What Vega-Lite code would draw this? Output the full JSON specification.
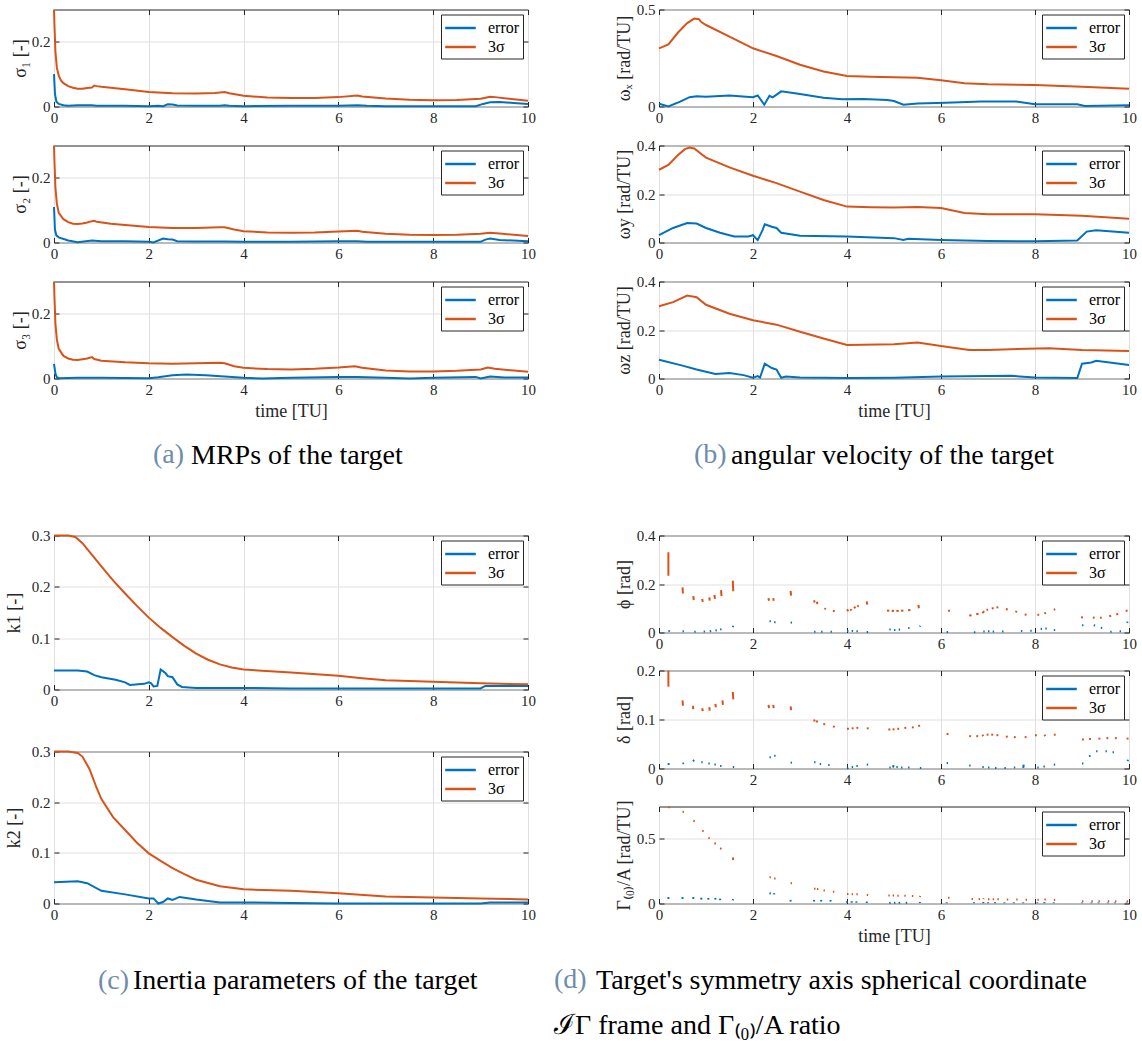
{
  "$schema": "https://vega.github.io/schema/vega-lite/v6.json",
  "autosize": {"type": "pad"},
  "padding": {"left": 4, "top": 1.5, "right": 5, "bottom": 5},
  "background": "white",
  "config": {
    "font": "Liberation Serif",
    "view": {"stroke": "#262626", "strokeWidth": 1},
    "axis": {
      "labelFont": "Liberation Serif", "labelFontSize": 15, "labelColor": "#262626",
      "titleFont": "Liberation Serif", "titleFontSize": 18, "titleFontWeight": "normal", "titleColor": "#262626",
      "domain": false, "tickColor": "#262626", "tickSize": -5, "tickWidth": 1,
      "gridColor": "#e0e0e0", "gridWidth": 1, "labelFlush": false, "labelOverlap": false
    },
    "axisBottom": {"labelPadding": 9, "titlePadding": 5},
    "axisLeft": {"labelPadding": 9, "titlePadding": 2},
    "legend": {
      "orient": "top-right", "offset": 5, "strokeColor": "#262626", "fillColor": "white",
      "padding": 3, "cornerRadius": 0, "symbolType": "M-1.7,0H1.7", "symbolSize": 324, "symbolOffset": 6,
      "symbolStrokeWidth": 2.5, "labelFont": "Liberation Serif", "labelFontSize": 16,
      "labelColor": "black", "rowPadding": 0, "labelOffset": 17
    },
    "title": {"font": "Liberation Serif", "fontSize": 28, "fontWeight": "normal", "color": "black", "frame": "group", "anchor": "start", "align": "left", "baseline": "alphabetic"}
  },
  "datasets": {
    "lines": [
      {"panel":"s1","series":"3σ","t":0,"v":0.30},{"panel":"s1","series":"3σ","t":0.01,"v":0.25},{"panel":"s1","series":"3σ","t":0.03,"v":0.17},{"panel":"s1","series":"3σ","t":0.06,"v":0.12},{"panel":"s1","series":"3σ","t":0.1,"v":0.095},{"panel":"s1","series":"3σ","t":0.15,"v":0.08},{"panel":"s1","series":"3σ","t":0.2,"v":0.072},{"panel":"s1","series":"3σ","t":0.3,"v":0.063},{"panel":"s1","series":"3σ","t":0.4,"v":0.058},{"panel":"s1","series":"3σ","t":0.5,"v":0.055},{"panel":"s1","series":"3σ","t":0.6,"v":0.055},{"panel":"s1","series":"3σ","t":0.7,"v":0.057},{"panel":"s1","series":"3σ","t":0.8,"v":0.059},{"panel":"s1","series":"3σ","t":0.85,"v":0.065},{"panel":"s1","series":"3σ","t":0.9,"v":0.063},{"panel":"s1","series":"3σ","t":1.0,"v":0.061},{"panel":"s1","series":"3σ","t":1.5,"v":0.053},{"panel":"s1","series":"3σ","t":2.0,"v":0.045},{"panel":"s1","series":"3σ","t":2.5,"v":0.041},{"panel":"s1","series":"3σ","t":3.0,"v":0.040},{"panel":"s1","series":"3σ","t":3.4,"v":0.042},{"panel":"s1","series":"3σ","t":3.6,"v":0.045},{"panel":"s1","series":"3σ","t":3.7,"v":0.041},{"panel":"s1","series":"3σ","t":4.0,"v":0.033},{"panel":"s1","series":"3σ","t":4.5,"v":0.028},{"panel":"s1","series":"3σ","t":5.0,"v":0.026},{"panel":"s1","series":"3σ","t":5.5,"v":0.026},{"panel":"s1","series":"3σ","t":6.0,"v":0.029},{"panel":"s1","series":"3σ","t":6.4,"v":0.034},{"panel":"s1","series":"3σ","t":6.5,"v":0.031},{"panel":"s1","series":"3σ","t":7.0,"v":0.025},{"panel":"s1","series":"3σ","t":7.5,"v":0.021},{"panel":"s1","series":"3σ","t":8.0,"v":0.019},{"panel":"s1","series":"3σ","t":8.5,"v":0.020},{"panel":"s1","series":"3σ","t":9.0,"v":0.024},{"panel":"s1","series":"3σ","t":9.2,"v":0.030},{"panel":"s1","series":"3σ","t":9.3,"v":0.029},{"panel":"s1","series":"3σ","t":9.6,"v":0.024},{"panel":"s1","series":"3σ","t":10,"v":0.018},
      {"panel":"s1","series":"error","t":0,"v":0.10},{"panel":"s1","series":"error","t":0.02,"v":0.04},{"panel":"s1","series":"error","t":0.05,"v":0.015},{"panel":"s1","series":"error","t":0.1,"v":0.008},{"panel":"s1","series":"error","t":0.2,"v":0.004},{"panel":"s1","series":"error","t":0.3,"v":0.002},{"panel":"s1","series":"error","t":0.5,"v":0.004},{"panel":"s1","series":"error","t":0.8,"v":0.004},{"panel":"s1","series":"error","t":0.9,"v":0.002},{"panel":"s1","series":"error","t":1.5,"v":0.002},{"panel":"s1","series":"error","t":2.0,"v":0.001},{"panel":"s1","series":"error","t":2.2,"v":0.002},{"panel":"s1","series":"error","t":2.3,"v":0.001},{"panel":"s1","series":"error","t":2.4,"v":0.007},{"panel":"s1","series":"error","t":2.5,"v":0.006},{"panel":"s1","series":"error","t":2.6,"v":0.003},{"panel":"s1","series":"error","t":3.0,"v":0.002},{"panel":"s1","series":"error","t":3.5,"v":0.002},{"panel":"s1","series":"error","t":3.6,"v":0.004},{"panel":"s1","series":"error","t":3.7,"v":0.002},{"panel":"s1","series":"error","t":4.0,"v":0.001},{"panel":"s1","series":"error","t":5.0,"v":0.002},{"panel":"s1","series":"error","t":6.0,"v":0.002},{"panel":"s1","series":"error","t":6.4,"v":0.004},{"panel":"s1","series":"error","t":6.6,"v":0.002},{"panel":"s1","series":"error","t":7.0,"v":0.001},{"panel":"s1","series":"error","t":8.0,"v":0.001},{"panel":"s1","series":"error","t":8.9,"v":0.001},{"panel":"s1","series":"error","t":9.05,"v":0.008},{"panel":"s1","series":"error","t":9.2,"v":0.013},{"panel":"s1","series":"error","t":9.4,"v":0.014},{"panel":"s1","series":"error","t":9.7,"v":0.011},{"panel":"s1","series":"error","t":10,"v":0.008},

      {"panel":"s2","series":"3σ","t":0,"v":0.30},{"panel":"s2","series":"3σ","t":0.01,"v":0.25},{"panel":"s2","series":"3σ","t":0.03,"v":0.17},{"panel":"s2","series":"3σ","t":0.06,"v":0.12},{"panel":"s2","series":"3σ","t":0.1,"v":0.092},{"panel":"s2","series":"3σ","t":0.2,"v":0.072},{"panel":"s2","series":"3σ","t":0.3,"v":0.063},{"panel":"s2","series":"3σ","t":0.4,"v":0.058},{"panel":"s2","series":"3σ","t":0.5,"v":0.057},{"panel":"s2","series":"3σ","t":0.6,"v":0.059},{"panel":"s2","series":"3σ","t":0.7,"v":0.062},{"panel":"s2","series":"3σ","t":0.8,"v":0.066},{"panel":"s2","series":"3σ","t":0.85,"v":0.067},{"panel":"s2","series":"3σ","t":0.9,"v":0.064},{"panel":"s2","series":"3σ","t":1.2,"v":0.058},{"panel":"s2","series":"3σ","t":1.5,"v":0.054},{"panel":"s2","series":"3σ","t":2.0,"v":0.048},{"panel":"s2","series":"3σ","t":2.5,"v":0.045},{"panel":"s2","series":"3σ","t":3.0,"v":0.045},{"panel":"s2","series":"3σ","t":3.5,"v":0.047},{"panel":"s2","series":"3σ","t":3.6,"v":0.047},{"panel":"s2","series":"3σ","t":3.8,"v":0.040},{"panel":"s2","series":"3σ","t":4.0,"v":0.035},{"panel":"s2","series":"3σ","t":4.5,"v":0.031},{"panel":"s2","series":"3σ","t":5.0,"v":0.030},{"panel":"s2","series":"3σ","t":5.5,"v":0.031},{"panel":"s2","series":"3σ","t":6.0,"v":0.034},{"panel":"s2","series":"3σ","t":6.4,"v":0.036},{"panel":"s2","series":"3σ","t":6.5,"v":0.033},{"panel":"s2","series":"3σ","t":7.0,"v":0.027},{"panel":"s2","series":"3σ","t":7.5,"v":0.024},{"panel":"s2","series":"3σ","t":8.0,"v":0.023},{"panel":"s2","series":"3σ","t":8.5,"v":0.024},{"panel":"s2","series":"3σ","t":9.0,"v":0.027},{"panel":"s2","series":"3σ","t":9.2,"v":0.030},{"panel":"s2","series":"3σ","t":9.4,"v":0.028},{"panel":"s2","series":"3σ","t":10,"v":0.020},
      {"panel":"s2","series":"error","t":0,"v":0.11},{"panel":"s2","series":"error","t":0.02,"v":0.04},{"panel":"s2","series":"error","t":0.05,"v":0.022},{"panel":"s2","series":"error","t":0.1,"v":0.016},{"panel":"s2","series":"error","t":0.3,"v":0.006},{"panel":"s2","series":"error","t":0.5,"v":0.001},{"panel":"s2","series":"error","t":0.8,"v":0.006},{"panel":"s2","series":"error","t":1.0,"v":0.004},{"panel":"s2","series":"error","t":1.5,"v":0.004},{"panel":"s2","series":"error","t":2.0,"v":0.002},{"panel":"s2","series":"error","t":2.1,"v":0.0},{"panel":"s2","series":"error","t":2.3,"v":0.012},{"panel":"s2","series":"error","t":2.4,"v":0.010},{"panel":"s2","series":"error","t":2.5,"v":0.009},{"panel":"s2","series":"error","t":2.6,"v":0.004},{"panel":"s2","series":"error","t":3.0,"v":0.003},{"panel":"s2","series":"error","t":3.6,"v":0.003},{"panel":"s2","series":"error","t":4.0,"v":0.002},{"panel":"s2","series":"error","t":5.0,"v":0.002},{"panel":"s2","series":"error","t":6.0,"v":0.004},{"panel":"s2","series":"error","t":6.4,"v":0.004},{"panel":"s2","series":"error","t":6.6,"v":0.002},{"panel":"s2","series":"error","t":7.0,"v":0.002},{"panel":"s2","series":"error","t":8.0,"v":0.002},{"panel":"s2","series":"error","t":9.0,"v":0.002},{"panel":"s2","series":"error","t":9.1,"v":0.009},{"panel":"s2","series":"error","t":9.2,"v":0.012},{"panel":"s2","series":"error","t":9.4,"v":0.008},{"panel":"s2","series":"error","t":10,"v":0.004},

      {"panel":"s3","series":"3σ","t":0,"v":0.30},{"panel":"s3","series":"3σ","t":0.01,"v":0.25},{"panel":"s3","series":"3σ","t":0.03,"v":0.17},{"panel":"s3","series":"3σ","t":0.06,"v":0.12},{"panel":"s3","series":"3σ","t":0.1,"v":0.092},{"panel":"s3","series":"3σ","t":0.2,"v":0.07},{"panel":"s3","series":"3σ","t":0.3,"v":0.062},{"panel":"s3","series":"3σ","t":0.4,"v":0.058},{"panel":"s3","series":"3σ","t":0.5,"v":0.057},{"panel":"s3","series":"3σ","t":0.7,"v":0.062},{"panel":"s3","series":"3σ","t":0.8,"v":0.066},{"panel":"s3","series":"3σ","t":0.85,"v":0.060},{"panel":"s3","series":"3σ","t":1.0,"v":0.055},{"panel":"s3","series":"3σ","t":1.5,"v":0.050},{"panel":"s3","series":"3σ","t":2.0,"v":0.047},{"panel":"s3","series":"3σ","t":2.5,"v":0.046},{"panel":"s3","series":"3σ","t":3.0,"v":0.047},{"panel":"s3","series":"3σ","t":3.5,"v":0.049},{"panel":"s3","series":"3σ","t":3.6,"v":0.047},{"panel":"s3","series":"3σ","t":3.8,"v":0.038},{"panel":"s3","series":"3σ","t":4.0,"v":0.033},{"panel":"s3","series":"3σ","t":4.5,"v":0.029},{"panel":"s3","series":"3σ","t":5.0,"v":0.028},{"panel":"s3","series":"3σ","t":5.5,"v":0.030},{"panel":"s3","series":"3σ","t":6.0,"v":0.034},{"panel":"s3","series":"3σ","t":6.35,"v":0.038},{"panel":"s3","series":"3σ","t":6.5,"v":0.033},{"panel":"s3","series":"3σ","t":7.0,"v":0.025},{"panel":"s3","series":"3σ","t":7.5,"v":0.022},{"panel":"s3","series":"3σ","t":8.0,"v":0.022},{"panel":"s3","series":"3σ","t":8.5,"v":0.024},{"panel":"s3","series":"3σ","t":9.0,"v":0.028},{"panel":"s3","series":"3σ","t":9.15,"v":0.034},{"panel":"s3","series":"3σ","t":9.3,"v":0.030},{"panel":"s3","series":"3σ","t":10,"v":0.021},
      {"panel":"s3","series":"error","t":0,"v":0.045},{"panel":"s3","series":"error","t":0.03,"v":0.015},{"panel":"s3","series":"error","t":0.06,"v":0.004},{"panel":"s3","series":"error","t":0.1,"v":0.001},{"panel":"s3","series":"error","t":0.5,"v":0.002},{"panel":"s3","series":"error","t":1.0,"v":0.002},{"panel":"s3","series":"error","t":2.0,"v":0.001},{"panel":"s3","series":"error","t":2.2,"v":0.004},{"panel":"s3","series":"error","t":2.5,"v":0.010},{"panel":"s3","series":"error","t":2.8,"v":0.012},{"panel":"s3","series":"error","t":3.2,"v":0.010},{"panel":"s3","series":"error","t":3.6,"v":0.006},{"panel":"s3","series":"error","t":4.0,"v":0.002},{"panel":"s3","series":"error","t":4.4,"v":0.0},{"panel":"s3","series":"error","t":5.0,"v":0.002},{"panel":"s3","series":"error","t":6.0,"v":0.005},{"panel":"s3","series":"error","t":6.4,"v":0.005},{"panel":"s3","series":"error","t":7.0,"v":0.002},{"panel":"s3","series":"error","t":7.5,"v":0.0},{"panel":"s3","series":"error","t":8.0,"v":0.002},{"panel":"s3","series":"error","t":8.9,"v":0.005},{"panel":"s3","series":"error","t":9.0,"v":0.0},{"panel":"s3","series":"error","t":9.2,"v":0.006},{"panel":"s3","series":"error","t":9.5,"v":0.003},{"panel":"s3","series":"error","t":10,"v":0.003},

      {"panel":"wx","series":"3σ","t":0,"v":0.30},{"panel":"wx","series":"3σ","t":0.2,"v":0.32},{"panel":"wx","series":"3σ","t":0.4,"v":0.38},{"panel":"wx","series":"3σ","t":0.6,"v":0.43},{"panel":"wx","series":"3σ","t":0.75,"v":0.453},{"panel":"wx","series":"3σ","t":0.85,"v":0.45},{"panel":"wx","series":"3σ","t":0.9,"v":0.435},{"panel":"wx","series":"3σ","t":1.0,"v":0.42},{"panel":"wx","series":"3σ","t":1.5,"v":0.36},{"panel":"wx","series":"3σ","t":2.0,"v":0.30},{"panel":"wx","series":"3σ","t":2.5,"v":0.26},{"panel":"wx","series":"3σ","t":3.0,"v":0.215},{"panel":"wx","series":"3σ","t":3.5,"v":0.18},{"panel":"wx","series":"3σ","t":4.0,"v":0.157},{"panel":"wx","series":"3σ","t":4.5,"v":0.153},{"panel":"wx","series":"3σ","t":5.0,"v":0.151},{"panel":"wx","series":"3σ","t":5.5,"v":0.148},{"panel":"wx","series":"3σ","t":6.0,"v":0.135},{"panel":"wx","series":"3σ","t":6.5,"v":0.12},{"panel":"wx","series":"3σ","t":7.0,"v":0.115},{"panel":"wx","series":"3σ","t":8.0,"v":0.111},{"panel":"wx","series":"3σ","t":9.0,"v":0.102},{"panel":"wx","series":"3σ","t":10,"v":0.092},
      {"panel":"wx","series":"error","t":0,"v":0.014},{"panel":"wx","series":"error","t":0.2,"v":0.0},{"panel":"wx","series":"error","t":0.45,"v":0.025},{"panel":"wx","series":"error","t":0.65,"v":0.048},{"panel":"wx","series":"error","t":0.8,"v":0.053},{"panel":"wx","series":"error","t":1.0,"v":0.05},{"panel":"wx","series":"error","t":1.5,"v":0.057},{"panel":"wx","series":"error","t":2.0,"v":0.048},{"panel":"wx","series":"error","t":2.1,"v":0.057},{"panel":"wx","series":"error","t":2.24,"v":0.009},{"panel":"wx","series":"error","t":2.35,"v":0.055},{"panel":"wx","series":"error","t":2.42,"v":0.047},{"panel":"wx","series":"error","t":2.6,"v":0.078},{"panel":"wx","series":"error","t":3.0,"v":0.065},{"panel":"wx","series":"error","t":3.5,"v":0.045},{"panel":"wx","series":"error","t":3.9,"v":0.037},{"panel":"wx","series":"error","t":4.35,"v":0.039},{"panel":"wx","series":"error","t":4.86,"v":0.034},{"panel":"wx","series":"error","t":5.0,"v":0.028},{"panel":"wx","series":"error","t":5.2,"v":0.009},{"panel":"wx","series":"error","t":5.5,"v":0.016},{"panel":"wx","series":"error","t":6.1,"v":0.019},{"panel":"wx","series":"error","t":6.85,"v":0.026},{"panel":"wx","series":"error","t":7.6,"v":0.026},{"panel":"wx","series":"error","t":8.0,"v":0.012},{"panel":"wx","series":"error","t":8.9,"v":0.012},{"panel":"wx","series":"error","t":9.06,"v":0.003},{"panel":"wx","series":"error","t":10,"v":0.007},

      {"panel":"wy","series":"3σ","t":0,"v":0.30},{"panel":"wy","series":"3σ","t":0.2,"v":0.32},{"panel":"wy","series":"3σ","t":0.4,"v":0.36},{"panel":"wy","series":"3σ","t":0.55,"v":0.385},{"panel":"wy","series":"3σ","t":0.65,"v":0.392},{"panel":"wy","series":"3σ","t":0.75,"v":0.388},{"panel":"wy","series":"3σ","t":0.9,"v":0.365},{"panel":"wy","series":"3σ","t":1.0,"v":0.35},{"panel":"wy","series":"3σ","t":1.5,"v":0.31},{"panel":"wy","series":"3σ","t":2.0,"v":0.275},{"panel":"wy","series":"3σ","t":2.5,"v":0.245},{"panel":"wy","series":"3σ","t":3.0,"v":0.21},{"panel":"wy","series":"3σ","t":3.5,"v":0.175},{"panel":"wy","series":"3σ","t":4.0,"v":0.148},{"panel":"wy","series":"3σ","t":4.5,"v":0.145},{"panel":"wy","series":"3σ","t":5.0,"v":0.144},{"panel":"wy","series":"3σ","t":5.5,"v":0.146},{"panel":"wy","series":"3σ","t":6.0,"v":0.142},{"panel":"wy","series":"3σ","t":6.5,"v":0.122},{"panel":"wy","series":"3σ","t":7.0,"v":0.117},{"panel":"wy","series":"3σ","t":8.0,"v":0.116},{"panel":"wy","series":"3σ","t":9.0,"v":0.11},{"panel":"wy","series":"3σ","t":10,"v":0.098},
      {"panel":"wy","series":"error","t":0,"v":0.03},{"panel":"wy","series":"error","t":0.3,"v":0.06},{"panel":"wy","series":"error","t":0.6,"v":0.08},{"panel":"wy","series":"error","t":0.8,"v":0.078},{"panel":"wy","series":"error","t":1.0,"v":0.06},{"panel":"wy","series":"error","t":1.3,"v":0.04},{"panel":"wy","series":"error","t":1.6,"v":0.025},{"panel":"wy","series":"error","t":1.9,"v":0.025},{"panel":"wy","series":"error","t":2.0,"v":0.03},{"panel":"wy","series":"error","t":2.1,"v":0.01},{"panel":"wy","series":"error","t":2.2,"v":0.05},{"panel":"wy","series":"error","t":2.25,"v":0.075},{"panel":"wy","series":"error","t":2.4,"v":0.065},{"panel":"wy","series":"error","t":2.5,"v":0.06},{"panel":"wy","series":"error","t":2.6,"v":0.04},{"panel":"wy","series":"error","t":3.0,"v":0.028},{"panel":"wy","series":"error","t":4.0,"v":0.025},{"panel":"wy","series":"error","t":5.0,"v":0.018},{"panel":"wy","series":"error","t":5.2,"v":0.01},{"panel":"wy","series":"error","t":5.3,"v":0.015},{"panel":"wy","series":"error","t":6.0,"v":0.01},{"panel":"wy","series":"error","t":7.0,"v":0.006},{"panel":"wy","series":"error","t":8.0,"v":0.005},{"panel":"wy","series":"error","t":8.9,"v":0.008},{"panel":"wy","series":"error","t":9.1,"v":0.045},{"panel":"wy","series":"error","t":9.3,"v":0.05},{"panel":"wy","series":"error","t":10,"v":0.04},

      {"panel":"wz","series":"3σ","t":0,"v":0.298},{"panel":"wz","series":"3σ","t":0.3,"v":0.315},{"panel":"wz","series":"3σ","t":0.6,"v":0.342},{"panel":"wz","series":"3σ","t":0.8,"v":0.335},{"panel":"wz","series":"3σ","t":1.0,"v":0.304},{"panel":"wz","series":"3σ","t":1.5,"v":0.267},{"panel":"wz","series":"3σ","t":2.0,"v":0.24},{"panel":"wz","series":"3σ","t":2.5,"v":0.222},{"panel":"wz","series":"3σ","t":3.0,"v":0.193},{"panel":"wz","series":"3σ","t":3.5,"v":0.165},{"panel":"wz","series":"3σ","t":4.0,"v":0.138},{"panel":"wz","series":"3σ","t":5.0,"v":0.141},{"panel":"wz","series":"3σ","t":5.5,"v":0.148},{"panel":"wz","series":"3σ","t":6.0,"v":0.134},{"panel":"wz","series":"3σ","t":6.6,"v":0.118},{"panel":"wz","series":"3σ","t":7.0,"v":0.118},{"panel":"wz","series":"3σ","t":8.3,"v":0.125},{"panel":"wz","series":"3σ","t":9.0,"v":0.118},{"panel":"wz","series":"3σ","t":10,"v":0.113},
      {"panel":"wz","series":"error","t":0,"v":0.077},{"panel":"wz","series":"error","t":0.5,"v":0.053},{"panel":"wz","series":"error","t":0.8,"v":0.037},{"panel":"wz","series":"error","t":1.2,"v":0.019},{"panel":"wz","series":"error","t":1.5,"v":0.023},{"panel":"wz","series":"error","t":1.8,"v":0.014},{"panel":"wz","series":"error","t":2.0,"v":0.003},{"panel":"wz","series":"error","t":2.1,"v":0.01},{"panel":"wz","series":"error","t":2.15,"v":0.004},{"panel":"wz","series":"error","t":2.25,"v":0.061},{"panel":"wz","series":"error","t":2.4,"v":0.043},{"panel":"wz","series":"error","t":2.5,"v":0.037},{"panel":"wz","series":"error","t":2.6,"v":0.003},{"panel":"wz","series":"error","t":2.7,"v":0.008},{"panel":"wz","series":"error","t":3.0,"v":0.004},{"panel":"wz","series":"error","t":4.0,"v":0.002},{"panel":"wz","series":"error","t":5.0,"v":0.003},{"panel":"wz","series":"error","t":6.0,"v":0.008},{"panel":"wz","series":"error","t":7.5,"v":0.011},{"panel":"wz","series":"error","t":8.0,"v":0.004},{"panel":"wz","series":"error","t":8.9,"v":0.002},{"panel":"wz","series":"error","t":9.0,"v":0.061},{"panel":"wz","series":"error","t":9.2,"v":0.066},{"panel":"wz","series":"error","t":9.3,"v":0.073},{"panel":"wz","series":"error","t":10,"v":0.056},

      {"panel":"k1","series":"3σ","t":0,"v":0.30},{"panel":"k1","series":"3σ","t":0.3,"v":0.30},{"panel":"k1","series":"3σ","t":0.45,"v":0.297},{"panel":"k1","series":"3σ","t":0.6,"v":0.285},{"panel":"k1","series":"3σ","t":0.75,"v":0.268},{"panel":"k1","series":"3σ","t":1.0,"v":0.24},{"panel":"k1","series":"3σ","t":1.25,"v":0.212},{"panel":"k1","series":"3σ","t":1.5,"v":0.187},{"panel":"k1","series":"3σ","t":1.75,"v":0.163},{"panel":"k1","series":"3σ","t":2.0,"v":0.14},{"panel":"k1","series":"3σ","t":2.25,"v":0.12},{"panel":"k1","series":"3σ","t":2.5,"v":0.102},{"panel":"k1","series":"3σ","t":2.75,"v":0.085},{"panel":"k1","series":"3σ","t":3.0,"v":0.07},{"panel":"k1","series":"3σ","t":3.25,"v":0.058},{"panel":"k1","series":"3σ","t":3.5,"v":0.049},{"panel":"k1","series":"3σ","t":3.75,"v":0.043},{"panel":"k1","series":"3σ","t":4.0,"v":0.039},{"panel":"k1","series":"3σ","t":5.0,"v":0.033},{"panel":"k1","series":"3σ","t":6.0,"v":0.027},{"panel":"k1","series":"3σ","t":6.5,"v":0.022},{"panel":"k1","series":"3σ","t":7.0,"v":0.018},{"panel":"k1","series":"3σ","t":8.0,"v":0.015},{"panel":"k1","series":"3σ","t":9.0,"v":0.012},{"panel":"k1","series":"3σ","t":10,"v":0.01},
      {"panel":"k1","series":"error","t":0,"v":0.037},{"panel":"k1","series":"error","t":0.5,"v":0.037},{"panel":"k1","series":"error","t":0.7,"v":0.035},{"panel":"k1","series":"error","t":0.85,"v":0.028},{"panel":"k1","series":"error","t":1.0,"v":0.024},{"panel":"k1","series":"error","t":1.3,"v":0.019},{"panel":"k1","series":"error","t":1.5,"v":0.014},{"panel":"k1","series":"error","t":1.6,"v":0.009},{"panel":"k1","series":"error","t":1.9,"v":0.011},{"panel":"k1","series":"error","t":2.0,"v":0.014},{"panel":"k1","series":"error","t":2.05,"v":0.012},{"panel":"k1","series":"error","t":2.1,"v":0.006},{"panel":"k1","series":"error","t":2.18,"v":0.007},{"panel":"k1","series":"error","t":2.25,"v":0.039},{"panel":"k1","series":"error","t":2.35,"v":0.032},{"panel":"k1","series":"error","t":2.4,"v":0.026},{"panel":"k1","series":"error","t":2.5,"v":0.024},{"panel":"k1","series":"error","t":2.6,"v":0.01},{"panel":"k1","series":"error","t":2.7,"v":0.005},{"panel":"k1","series":"error","t":3.0,"v":0.003},{"panel":"k1","series":"error","t":4.0,"v":0.003},{"panel":"k1","series":"error","t":5.0,"v":0.002},{"panel":"k1","series":"error","t":6.0,"v":0.002},{"panel":"k1","series":"error","t":8.0,"v":0.002},{"panel":"k1","series":"error","t":9.0,"v":0.002},{"panel":"k1","series":"error","t":9.1,"v":0.007},{"panel":"k1","series":"error","t":10,"v":0.007},

      {"panel":"k2","series":"3σ","t":0,"v":0.30},{"panel":"k2","series":"3σ","t":0.3,"v":0.30},{"panel":"k2","series":"3σ","t":0.5,"v":0.297},{"panel":"k2","series":"3σ","t":0.6,"v":0.29},{"panel":"k2","series":"3σ","t":0.75,"v":0.265},{"panel":"k2","series":"3σ","t":0.9,"v":0.228},{"panel":"k2","series":"3σ","t":1.0,"v":0.206},{"panel":"k2","series":"3σ","t":1.25,"v":0.17},{"panel":"k2","series":"3σ","t":1.5,"v":0.145},{"panel":"k2","series":"3σ","t":1.75,"v":0.12},{"panel":"k2","series":"3σ","t":2.0,"v":0.099},{"panel":"k2","series":"3σ","t":2.25,"v":0.084},{"panel":"k2","series":"3σ","t":2.5,"v":0.070},{"panel":"k2","series":"3σ","t":2.75,"v":0.058},{"panel":"k2","series":"3σ","t":3.0,"v":0.047},{"panel":"k2","series":"3σ","t":3.5,"v":0.034},{"panel":"k2","series":"3σ","t":4.0,"v":0.028},{"panel":"k2","series":"3σ","t":5.0,"v":0.025},{"panel":"k2","series":"3σ","t":6.0,"v":0.020},{"panel":"k2","series":"3σ","t":7.0,"v":0.014},{"panel":"k2","series":"3σ","t":8.0,"v":0.012},{"panel":"k2","series":"3σ","t":9.0,"v":0.010},{"panel":"k2","series":"3σ","t":10,"v":0.008},
      {"panel":"k2","series":"error","t":0,"v":0.042},{"panel":"k2","series":"error","t":0.5,"v":0.044},{"panel":"k2","series":"error","t":0.7,"v":0.04},{"panel":"k2","series":"error","t":1.0,"v":0.025},{"panel":"k2","series":"error","t":1.5,"v":0.018},{"panel":"k2","series":"error","t":2.0,"v":0.01},{"panel":"k2","series":"error","t":2.1,"v":0.01},{"panel":"k2","series":"error","t":2.2,"v":0.0},{"panel":"k2","series":"error","t":2.3,"v":0.003},{"panel":"k2","series":"error","t":2.4,"v":0.01},{"panel":"k2","series":"error","t":2.5,"v":0.007},{"panel":"k2","series":"error","t":2.65,"v":0.013},{"panel":"k2","series":"error","t":3.0,"v":0.008},{"panel":"k2","series":"error","t":3.5,"v":0.002},{"panel":"k2","series":"error","t":4.0,"v":0.002},{"panel":"k2","series":"error","t":5.0,"v":0.001},{"panel":"k2","series":"error","t":6.0,"v":0.0},{"panel":"k2","series":"error","t":9.0,"v":0.0},{"panel":"k2","series":"error","t":9.2,"v":0.002},{"panel":"k2","series":"error","t":10,"v":0.002}
    ],
    "segs": [
      {"panel":"phi","series":"3σ","t":0.2,"v":0.331,"t2":0.2,"v2":0.234},{"panel":"phi","series":"3σ","t":0.5,"v":0.186,"t2":0.51,"v2":0.161},{"panel":"phi","series":"3σ","t":0.73,"v":0.150,"t2":0.74,"v2":0.134},{"panel":"phi","series":"3σ","t":0.92,"v":0.139,"t2":0.93,"v2":0.126},{"panel":"phi","series":"3σ","t":1.07,"v":0.145,"t2":1.08,"v2":0.131},{"panel":"phi","series":"3σ","t":1.18,"v":0.155,"t2":1.19,"v2":0.139},{"panel":"phi","series":"3σ","t":1.32,"v":0.175,"t2":1.33,"v2":0.150},{"panel":"phi","series":"3σ","t":1.57,"v":0.214,"t2":1.58,"v2":0.170},{"panel":"phi","series":"3σ","t":2.33,"v":0.142,"t2":2.34,"v2":0.131},{"panel":"phi","series":"3σ","t":2.43,"v":0.142,"t2":2.44,"v2":0.131},{"panel":"phi","series":"3σ","t":2.8,"v":0.172,"t2":2.81,"v2":0.152},{"panel":"phi","series":"3σ","t":3.3,"v":0.133,"t2":3.31,"v2":0.124},{"panel":"phi","series":"3σ","t":3.36,"v":0.127,"t2":3.37,"v2":0.117},{"panel":"phi","series":"3σ","t":3.52,"v":0.100,"t2":3.55,"v2":0.096},{"panel":"phi","series":"3σ","t":3.7,"v":0.090,"t2":3.74,"v2":0.088},{"panel":"phi","series":"3σ","t":4.0,"v":0.095,"t2":4.03,"v2":0.088},{"panel":"phi","series":"3σ","t":4.07,"v":0.096,"t2":4.1,"v2":0.091},{"panel":"phi","series":"3σ","t":4.15,"v":0.106,"t2":4.18,"v2":0.100},{"panel":"phi","series":"3σ","t":4.22,"v":0.111,"t2":4.25,"v2":0.106},{"panel":"phi","series":"3σ","t":4.42,"v":0.128,"t2":4.43,"v2":0.115},{"panel":"phi","series":"3σ","t":4.85,"v":0.090,"t2":4.9,"v2":0.090},{"panel":"phi","series":"3σ","t":4.95,"v":0.090,"t2":5.0,"v2":0.089},{"panel":"phi","series":"3σ","t":5.05,"v":0.089,"t2":5.1,"v2":0.089},{"panel":"phi","series":"3σ","t":5.15,"v":0.090,"t2":5.2,"v2":0.090},{"panel":"phi","series":"3σ","t":5.3,"v":0.092,"t2":5.35,"v2":0.093},{"panel":"phi","series":"3σ","t":5.52,"v":0.114,"t2":5.53,"v2":0.100},{"panel":"phi","series":"3σ","t":6.15,"v":0.090,"t2":6.19,"v2":0.090},{"panel":"phi","series":"3σ","t":6.6,"v":0.070,"t2":6.65,"v2":0.071},{"panel":"phi","series":"3σ","t":6.75,"v":0.075,"t2":6.8,"v2":0.077},{"panel":"phi","series":"3σ","t":6.88,"v":0.080,"t2":6.92,"v2":0.088},{"panel":"phi","series":"3σ","t":6.97,"v":0.092,"t2":7.0,"v2":0.095},{"panel":"phi","series":"3σ","t":7.08,"v":0.099,"t2":7.12,"v2":0.101},{"panel":"phi","series":"3σ","t":7.18,"v":0.103,"t2":7.22,"v2":0.104},{"panel":"phi","series":"3σ","t":7.38,"v":0.097,"t2":7.42,"v2":0.095},{"panel":"phi","series":"3σ","t":7.58,"v":0.087,"t2":7.62,"v2":0.085},{"panel":"phi","series":"3σ","t":7.78,"v":0.074,"t2":7.82,"v2":0.073},{"panel":"phi","series":"3σ","t":8.05,"v":0.073,"t2":8.09,"v2":0.073},{"panel":"phi","series":"3σ","t":8.2,"v":0.078,"t2":8.23,"v2":0.082},{"panel":"phi","series":"3σ","t":8.4,"v":0.094,"t2":8.43,"v2":0.096},{"panel":"phi","series":"3σ","t":8.98,"v":0.063,"t2":9.02,"v2":0.062},{"panel":"phi","series":"3σ","t":9.23,"v":0.061,"t2":9.27,"v2":0.062},{"panel":"phi","series":"3σ","t":9.38,"v":0.061,"t2":9.42,"v2":0.061},{"panel":"phi","series":"3σ","t":9.58,"v":0.067,"t2":9.62,"v2":0.069},{"panel":"phi","series":"3σ","t":9.73,"v":0.074,"t2":9.77,"v2":0.077},{"panel":"phi","series":"3σ","t":9.93,"v":0.088,"t2":9.97,"v2":0.091},
      {"panel":"phi","series":"error","t":0.2,"v":0.006,"t2":0.23,"v2":0.006},{"panel":"phi","series":"error","t":0.5,"v":0.005,"t2":0.53,"v2":0.005},{"panel":"phi","series":"error","t":0.75,"v":0.003,"t2":0.78,"v2":0.003},{"panel":"phi","series":"error","t":0.95,"v":0.004,"t2":0.98,"v2":0.004},{"panel":"phi","series":"error","t":1.08,"v":0.005,"t2":1.11,"v2":0.006},{"panel":"phi","series":"error","t":1.2,"v":0.008,"t2":1.23,"v2":0.009},{"panel":"phi","series":"error","t":1.3,"v":0.012,"t2":1.33,"v2":0.014},{"panel":"phi","series":"error","t":1.57,"v":0.022,"t2":1.58,"v2":0.028},{"panel":"phi","series":"error","t":2.35,"v":0.046,"t2":2.38,"v2":0.046},{"panel":"phi","series":"error","t":2.45,"v":0.042,"t2":2.48,"v2":0.042},{"panel":"phi","series":"error","t":2.8,"v":0.041,"t2":2.83,"v2":0.041},{"panel":"phi","series":"error","t":3.3,"v":0.003,"t2":3.33,"v2":0.003},{"panel":"phi","series":"error","t":3.45,"v":0.003,"t2":3.48,"v2":0.003},{"panel":"phi","series":"error","t":3.65,"v":0.003,"t2":3.68,"v2":0.003},{"panel":"phi","series":"error","t":4.0,"v":0.006,"t2":4.03,"v2":0.006},{"panel":"phi","series":"error","t":4.1,"v":0.006,"t2":4.13,"v2":0.006},{"panel":"phi","series":"error","t":4.2,"v":0.005,"t2":4.23,"v2":0.005},{"panel":"phi","series":"error","t":4.42,"v":0.002,"t2":4.45,"v2":0.002},{"panel":"phi","series":"error","t":4.9,"v":0.012,"t2":4.93,"v2":0.012},{"panel":"phi","series":"error","t":5.0,"v":0.010,"t2":5.03,"v2":0.010},{"panel":"phi","series":"error","t":5.1,"v":0.011,"t2":5.13,"v2":0.012},{"panel":"phi","series":"error","t":5.3,"v":0.018,"t2":5.33,"v2":0.019},{"panel":"phi","series":"error","t":5.55,"v":0.024,"t2":5.56,"v2":0.028},{"panel":"phi","series":"error","t":6.12,"v":0.002,"t2":6.15,"v2":0.002},{"panel":"phi","series":"error","t":6.7,"v":0.001,"t2":6.73,"v2":0.001},{"panel":"phi","series":"error","t":6.9,"v":0.004,"t2":6.93,"v2":0.004},{"panel":"phi","series":"error","t":7.0,"v":0.005,"t2":7.03,"v2":0.005},{"panel":"phi","series":"error","t":7.1,"v":0.004,"t2":7.13,"v2":0.004},{"panel":"phi","series":"error","t":7.3,"v":0.004,"t2":7.33,"v2":0.004},{"panel":"phi","series":"error","t":7.7,"v":0.006,"t2":7.73,"v2":0.006},{"panel":"phi","series":"error","t":7.9,"v":0.007,"t2":7.93,"v2":0.007},{"panel":"phi","series":"error","t":8.12,"v":0.015,"t2":8.15,"v2":0.015},{"panel":"phi","series":"error","t":8.22,"v":0.016,"t2":8.25,"v2":0.016},{"panel":"phi","series":"error","t":8.4,"v":0.010,"t2":8.43,"v2":0.010},{"panel":"phi","series":"error","t":9.0,"v":0.030,"t2":9.03,"v2":0.030},{"panel":"phi","series":"error","t":9.25,"v":0.030,"t2":9.28,"v2":0.029},{"panel":"phi","series":"error","t":9.4,"v":0.020,"t2":9.43,"v2":0.019},{"panel":"phi","series":"error","t":9.6,"v":0.003,"t2":9.63,"v2":0.003},{"panel":"phi","series":"error","t":9.8,"v":0.005,"t2":9.83,"v2":0.005},{"panel":"phi","series":"error","t":9.96,"v":0.040,"t2":9.97,"v2":0.045},

      {"panel":"delta","series":"3σ","t":0.2,"v":0.2,"t2":0.2,"v2":0.167},{"panel":"delta","series":"3σ","t":0.5,"v":0.139,"t2":0.51,"v2":0.128},{"panel":"delta","series":"3σ","t":0.72,"v":0.128,"t2":0.73,"v2":0.121},{"panel":"delta","series":"3σ","t":0.92,"v":0.123,"t2":0.93,"v2":0.117},{"panel":"delta","series":"3σ","t":1.07,"v":0.125,"t2":1.08,"v2":0.118},{"panel":"delta","series":"3σ","t":1.2,"v":0.132,"t2":1.21,"v2":0.125},{"panel":"delta","series":"3σ","t":1.35,"v":0.139,"t2":1.36,"v2":0.130},{"panel":"delta","series":"3σ","t":1.57,"v":0.156,"t2":1.58,"v2":0.141},{"panel":"delta","series":"3σ","t":2.33,"v":0.130,"t2":2.34,"v2":0.123},{"panel":"delta","series":"3σ","t":2.43,"v":0.130,"t2":2.44,"v2":0.123},{"panel":"delta","series":"3σ","t":2.8,"v":0.127,"t2":2.81,"v2":0.119},{"panel":"delta","series":"3σ","t":3.3,"v":0.100,"t2":3.31,"v2":0.096},{"panel":"delta","series":"3σ","t":3.35,"v":0.098,"t2":3.37,"v2":0.094},{"panel":"delta","series":"3σ","t":3.5,"v":0.092,"t2":3.53,"v2":0.089},{"panel":"delta","series":"3σ","t":3.7,"v":0.086,"t2":3.74,"v2":0.085},{"panel":"delta","series":"3σ","t":4.0,"v":0.081,"t2":4.04,"v2":0.081},{"panel":"delta","series":"3σ","t":4.1,"v":0.082,"t2":4.14,"v2":0.082},{"panel":"delta","series":"3σ","t":4.2,"v":0.083,"t2":4.24,"v2":0.083},{"panel":"delta","series":"3σ","t":4.42,"v":0.082,"t2":4.46,"v2":0.082},{"panel":"delta","series":"3σ","t":4.88,"v":0.079,"t2":4.92,"v2":0.080},{"panel":"delta","series":"3σ","t":4.97,"v":0.080,"t2":5.01,"v2":0.080},{"panel":"delta","series":"3σ","t":5.07,"v":0.081,"t2":5.11,"v2":0.081},{"panel":"delta","series":"3σ","t":5.22,"v":0.083,"t2":5.26,"v2":0.083},{"panel":"delta","series":"3σ","t":5.38,"v":0.084,"t2":5.42,"v2":0.084},{"panel":"delta","series":"3σ","t":5.53,"v":0.089,"t2":5.54,"v2":0.085},{"panel":"delta","series":"3σ","t":6.12,"v":0.070,"t2":6.16,"v2":0.071},{"panel":"delta","series":"3σ","t":6.6,"v":0.066,"t2":6.64,"v2":0.066},{"panel":"delta","series":"3σ","t":6.75,"v":0.066,"t2":6.79,"v2":0.066},{"panel":"delta","series":"3σ","t":6.88,"v":0.069,"t2":6.9,"v2":0.066},{"panel":"delta","series":"3σ","t":6.97,"v":0.069,"t2":7.01,"v2":0.069},{"panel":"delta","series":"3σ","t":7.07,"v":0.069,"t2":7.11,"v2":0.069},{"panel":"delta","series":"3σ","t":7.18,"v":0.068,"t2":7.22,"v2":0.068},{"panel":"delta","series":"3σ","t":7.38,"v":0.065,"t2":7.42,"v2":0.065},{"panel":"delta","series":"3σ","t":7.55,"v":0.064,"t2":7.59,"v2":0.064},{"panel":"delta","series":"3σ","t":7.78,"v":0.064,"t2":7.82,"v2":0.064},{"panel":"delta","series":"3σ","t":8.0,"v":0.068,"t2":8.04,"v2":0.068},{"panel":"delta","series":"3σ","t":8.2,"v":0.069,"t2":8.22,"v2":0.066},{"panel":"delta","series":"3σ","t":8.4,"v":0.069,"t2":8.44,"v2":0.069},{"panel":"delta","series":"3σ","t":9.0,"v":0.059,"t2":9.04,"v2":0.059},{"panel":"delta","series":"3σ","t":9.15,"v":0.060,"t2":9.19,"v2":0.060},{"panel":"delta","series":"3σ","t":9.35,"v":0.061,"t2":9.39,"v2":0.061},{"panel":"delta","series":"3σ","t":9.52,"v":0.062,"t2":9.56,"v2":0.062},{"panel":"delta","series":"3σ","t":9.7,"v":0.062,"t2":9.74,"v2":0.062},{"panel":"delta","series":"3σ","t":9.95,"v":0.061,"t2":9.99,"v2":0.061},
      {"panel":"delta","series":"error","t":0.2,"v":0.007,"t2":0.21,"v2":0.011},{"panel":"delta","series":"error","t":0.5,"v":0.010,"t2":0.53,"v2":0.011},{"panel":"delta","series":"error","t":0.72,"v":0.015,"t2":0.75,"v2":0.017},{"panel":"delta","series":"error","t":0.9,"v":0.013,"t2":0.93,"v2":0.013},{"panel":"delta","series":"error","t":1.05,"v":0.010,"t2":1.08,"v2":0.010},{"panel":"delta","series":"error","t":1.18,"v":0.008,"t2":1.21,"v2":0.008},{"panel":"delta","series":"error","t":1.3,"v":0.005,"t2":1.33,"v2":0.005},{"panel":"delta","series":"error","t":1.57,"v":0.003,"t2":1.6,"v2":0.003},{"panel":"delta","series":"error","t":2.35,"v":0.023,"t2":2.38,"v2":0.023},{"panel":"delta","series":"error","t":2.45,"v":0.026,"t2":2.48,"v2":0.026},{"panel":"delta","series":"error","t":2.8,"v":0.012,"t2":2.83,"v2":0.012},{"panel":"delta","series":"error","t":3.3,"v":0.013,"t2":3.33,"v2":0.013},{"panel":"delta","series":"error","t":3.42,"v":0.009,"t2":3.45,"v2":0.009},{"panel":"delta","series":"error","t":3.6,"v":0.007,"t2":3.63,"v2":0.007},{"panel":"delta","series":"error","t":4.0,"v":0.000,"t2":4.03,"v2":0.001},{"panel":"delta","series":"error","t":4.1,"v":0.003,"t2":4.13,"v2":0.003},{"panel":"delta","series":"error","t":4.2,"v":0.005,"t2":4.23,"v2":0.005},{"panel":"delta","series":"error","t":4.42,"v":0.008,"t2":4.45,"v2":0.008},{"panel":"delta","series":"error","t":4.9,"v":0.002,"t2":4.93,"v2":0.002},{"panel":"delta","series":"error","t":4.98,"v":0.002,"t2":4.99,"v2":0.007},{"panel":"delta","series":"error","t":5.05,"v":0.003,"t2":5.08,"v2":0.003},{"panel":"delta","series":"error","t":5.15,"v":0.002,"t2":5.18,"v2":0.002},{"panel":"delta","series":"error","t":5.3,"v":0.002,"t2":5.33,"v2":0.002},{"panel":"delta","series":"error","t":5.55,"v":0.001,"t2":5.58,"v2":0.001},{"panel":"delta","series":"error","t":6.12,"v":0.011,"t2":6.15,"v2":0.011},{"panel":"delta","series":"error","t":6.6,"v":0.006,"t2":6.63,"v2":0.006},{"panel":"delta","series":"error","t":6.88,"v":0.003,"t2":6.91,"v2":0.003},{"panel":"delta","series":"error","t":7.0,"v":0.002,"t2":7.03,"v2":0.002},{"panel":"delta","series":"error","t":7.15,"v":0.001,"t2":7.18,"v2":0.001},{"panel":"delta","series":"error","t":7.35,"v":0.001,"t2":7.38,"v2":0.001},{"panel":"delta","series":"error","t":7.55,"v":0.002,"t2":7.58,"v2":0.002},{"panel":"delta","series":"error","t":7.75,"v":0.001,"t2":7.76,"v2":0.008},{"panel":"delta","series":"error","t":8.05,"v":0.002,"t2":8.08,"v2":0.002},{"panel":"delta","series":"error","t":8.18,"v":0.004,"t2":8.21,"v2":0.004},{"panel":"delta","series":"error","t":8.4,"v":0.008,"t2":8.43,"v2":0.008},{"panel":"delta","series":"error","t":9.0,"v":0.010,"t2":9.03,"v2":0.010},{"panel":"delta","series":"error","t":9.15,"v":0.025,"t2":9.18,"v2":0.026},{"panel":"delta","series":"error","t":9.3,"v":0.035,"t2":9.33,"v2":0.035},{"panel":"delta","series":"error","t":9.5,"v":0.035,"t2":9.53,"v2":0.035},{"panel":"delta","series":"error","t":9.65,"v":0.033,"t2":9.68,"v2":0.033},{"panel":"delta","series":"error","t":9.97,"v":0.015,"t2":9.98,"v2":0.018},

      {"panel":"gam","series":"3σ","t":0.2,"v":0.745,"t2":0.23,"v2":0.745},{"panel":"gam","series":"3σ","t":0.5,"v":0.710,"t2":0.53,"v2":0.708},{"panel":"gam","series":"3σ","t":0.73,"v":0.640,"t2":0.76,"v2":0.636},{"panel":"gam","series":"3σ","t":0.92,"v":0.563,"t2":0.95,"v2":0.558},{"panel":"gam","series":"3σ","t":1.05,"v":0.508,"t2":1.08,"v2":0.503},{"panel":"gam","series":"3σ","t":1.18,"v":0.467,"t2":1.21,"v2":0.462},{"panel":"gam","series":"3σ","t":1.3,"v":0.427,"t2":1.33,"v2":0.422},{"panel":"gam","series":"3σ","t":1.57,"v":0.356,"t2":1.58,"v2":0.336},{"panel":"gam","series":"3σ","t":2.35,"v":0.202,"t2":2.38,"v2":0.202},{"panel":"gam","series":"3σ","t":2.45,"v":0.194,"t2":2.48,"v2":0.194},{"panel":"gam","series":"3σ","t":2.8,"v":0.157,"t2":2.83,"v2":0.157},{"panel":"gam","series":"3σ","t":3.3,"v":0.114,"t2":3.33,"v2":0.114},{"panel":"gam","series":"3σ","t":3.36,"v":0.112,"t2":3.39,"v2":0.112},{"panel":"gam","series":"3σ","t":3.5,"v":0.101,"t2":3.53,"v2":0.101},{"panel":"gam","series":"3σ","t":3.7,"v":0.091,"t2":3.73,"v2":0.091},{"panel":"gam","series":"3σ","t":4.0,"v":0.073,"t2":4.03,"v2":0.073},{"panel":"gam","series":"3σ","t":4.1,"v":0.072,"t2":4.13,"v2":0.072},{"panel":"gam","series":"3σ","t":4.2,"v":0.071,"t2":4.23,"v2":0.071},{"panel":"gam","series":"3σ","t":4.42,"v":0.066,"t2":4.45,"v2":0.066},{"panel":"gam","series":"3σ","t":4.88,"v":0.061,"t2":4.91,"v2":0.061},{"panel":"gam","series":"3σ","t":4.97,"v":0.061,"t2":5.0,"v2":0.061},{"panel":"gam","series":"3σ","t":5.07,"v":0.060,"t2":5.1,"v2":0.060},{"panel":"gam","series":"3σ","t":5.22,"v":0.060,"t2":5.25,"v2":0.060},{"panel":"gam","series":"3σ","t":5.38,"v":0.058,"t2":5.41,"v2":0.058},{"panel":"gam","series":"3σ","t":5.55,"v":0.050,"t2":5.56,"v2":0.058},{"panel":"gam","series":"3σ","t":6.15,"v":0.045,"t2":6.18,"v2":0.045},{"panel":"gam","series":"3σ","t":6.65,"v":0.035,"t2":6.68,"v2":0.035},{"panel":"gam","series":"3σ","t":6.8,"v":0.034,"t2":6.83,"v2":0.034},{"panel":"gam","series":"3σ","t":6.9,"v":0.034,"t2":6.91,"v2":0.040},{"panel":"gam","series":"3σ","t":7.0,"v":0.033,"t2":7.03,"v2":0.033},{"panel":"gam","series":"3σ","t":7.1,"v":0.033,"t2":7.13,"v2":0.033},{"panel":"gam","series":"3σ","t":7.2,"v":0.032,"t2":7.23,"v2":0.032},{"panel":"gam","series":"3σ","t":7.4,"v":0.031,"t2":7.43,"v2":0.031},{"panel":"gam","series":"3σ","t":7.6,"v":0.030,"t2":7.63,"v2":0.030},{"panel":"gam","series":"3σ","t":7.8,"v":0.029,"t2":7.83,"v2":0.029},{"panel":"gam","series":"3σ","t":8.05,"v":0.029,"t2":8.08,"v2":0.029},{"panel":"gam","series":"3σ","t":8.2,"v":0.030,"t2":8.23,"v2":0.030},{"panel":"gam","series":"3σ","t":8.4,"v":0.028,"t2":8.43,"v2":0.028},{"panel":"gam","series":"3σ","t":9.0,"v":0.018,"t2":9.03,"v2":0.018},{"panel":"gam","series":"3σ","t":9.2,"v":0.018,"t2":9.23,"v2":0.018},{"panel":"gam","series":"3σ","t":9.35,"v":0.018,"t2":9.38,"v2":0.018},{"panel":"gam","series":"3σ","t":9.55,"v":0.018,"t2":9.58,"v2":0.018},{"panel":"gam","series":"3σ","t":9.7,"v":0.017,"t2":9.73,"v2":0.017},{"panel":"gam","series":"3σ","t":9.95,"v":0.017,"t2":9.98,"v2":0.017},
      {"panel":"gam","series":"error","t":0.2,"v":0.035,"t2":0.2,"v2":0.05},{"panel":"gam","series":"error","t":0.5,"v":0.035,"t2":0.5,"v2":0.05},{"panel":"gam","series":"error","t":0.73,"v":0.035,"t2":0.73,"v2":0.05},{"panel":"gam","series":"error","t":0.9,"v":0.03,"t2":0.9,"v2":0.045},{"panel":"gam","series":"error","t":1.05,"v":0.03,"t2":1.05,"v2":0.043},{"panel":"gam","series":"error","t":1.2,"v":0.03,"t2":1.2,"v2":0.043},{"panel":"gam","series":"error","t":1.3,"v":0.026,"t2":1.3,"v2":0.038},{"panel":"gam","series":"error","t":1.57,"v":0.024,"t2":1.58,"v2":0.034},{"panel":"gam","series":"error","t":2.35,"v":0.08,"t2":2.38,"v2":0.078},{"panel":"gam","series":"error","t":2.45,"v":0.07,"t2":2.45,"v2":0.08},{"panel":"gam","series":"error","t":2.8,"v":0.015,"t2":2.8,"v2":0.028},{"panel":"gam","series":"error","t":3.3,"v":0.015,"t2":3.3,"v2":0.028},{"panel":"gam","series":"error","t":3.45,"v":0.015,"t2":3.45,"v2":0.028},{"panel":"gam","series":"error","t":3.65,"v":0.015,"t2":3.65,"v2":0.027},{"panel":"gam","series":"error","t":4.0,"v":0.006,"t2":4.0,"v2":0.018},{"panel":"gam","series":"error","t":4.1,"v":0.006,"t2":4.1,"v2":0.018},{"panel":"gam","series":"error","t":4.2,"v":0.006,"t2":4.2,"v2":0.017},{"panel":"gam","series":"error","t":4.42,"v":0.004,"t2":4.42,"v2":0.015},{"panel":"gam","series":"error","t":4.9,"v":0.004,"t2":4.93,"v2":0.006},{"panel":"gam","series":"error","t":5.0,"v":0.004,"t2":5.03,"v2":0.006},{"panel":"gam","series":"error","t":5.1,"v":0.004,"t2":5.13,"v2":0.006},{"panel":"gam","series":"error","t":5.25,"v":0.004,"t2":5.28,"v2":0.006},{"panel":"gam","series":"error","t":5.55,"v":0.003,"t2":5.55,"v2":0.012},{"panel":"gam","series":"error","t":6.12,"v":0.002,"t2":6.12,"v2":0.01},{"panel":"gam","series":"error","t":6.7,"v":0.002,"t2":6.7,"v2":0.01},{"panel":"gam","series":"error","t":6.9,"v":0.002,"t2":6.9,"v2":0.012},{"panel":"gam","series":"error","t":7.0,"v":0.002,"t2":7.0,"v2":0.01},{"panel":"gam","series":"error","t":7.15,"v":0.002,"t2":7.15,"v2":0.01},{"panel":"gam","series":"error","t":7.35,"v":0.002,"t2":7.35,"v2":0.009},{"panel":"gam","series":"error","t":7.55,"v":0.002,"t2":7.55,"v2":0.009},{"panel":"gam","series":"error","t":7.75,"v":0.002,"t2":7.75,"v2":0.009},{"panel":"gam","series":"error","t":8.05,"v":0.002,"t2":8.05,"v2":0.009},{"panel":"gam","series":"error","t":8.2,"v":0.002,"t2":8.2,"v2":0.011},{"panel":"gam","series":"error","t":8.4,"v":0.002,"t2":8.4,"v2":0.009},{"panel":"gam","series":"error","t":9.0,"v":0.002,"t2":9.0,"v2":0.008},{"panel":"gam","series":"error","t":9.2,"v":0.002,"t2":9.2,"v2":0.008},{"panel":"gam","series":"error","t":9.35,"v":0.002,"t2":9.35,"v2":0.008},{"panel":"gam","series":"error","t":9.55,"v":0.002,"t2":9.55,"v2":0.008},{"panel":"gam","series":"error","t":9.7,"v":0.002,"t2":9.7,"v2":0.008},{"panel":"gam","series":"error","t":9.95,"v":0.002,"t2":9.95,"v2":0.008}
    ]
  },
  "columns": 2,
  "bounds": "flush",
  "align": {"row": "none", "column": "all"},
  "spacing": {"row": 0, "column": 131},
  "resolve": {"scale": {"color": "independent"}, "legend": {"color": "independent"}},
  "concat": [
    {
      "width": 474, "height": 97, "data": {"name": "lines"},
      "layer": [
        {"transform": [{"filter": "datum.panel === 's1' && datum.series === 'error'"}], "mark": {"type": "line", "strokeWidth": 2},
         "encoding": {"x": {"field": "t", "type": "quantitative", "scale": {"domain": [0, 10], "nice": false}, "axis": {"orient": "bottom", "values": [0, 2, 4, 6, 8, 10], "format": "~r", "grid": true, "title": null}},
                      "y": {"field": "v", "type": "quantitative", "scale": {"domain": [0, 0.3], "nice": false}, "axis": {"orient": "left", "values": [0, 0.2], "format": "~r", "grid": true, "title": "σ₁ [-]"}},
                      "color": {"field": "series", "type": "nominal", "scale": {"domain": ["error", "3σ"], "range": ["#0072BD", "#D95319"]}, "legend": {"title": null}}}},
        {"transform": [{"filter": "datum.panel === 's1' && datum.series === '3σ'"}], "mark": {"type": "line", "strokeWidth": 2},
         "encoding": {"x": {"field": "t", "type": "quantitative", "scale": {"domain": [0, 10], "nice": false}, "axis": {"orient": "top", "values": [0, 2, 4, 6, 8, 10], "labels": false, "grid": false, "title": null}},
                      "y": {"field": "v", "type": "quantitative", "scale": {"domain": [0, 0.3], "nice": false}, "axis": {"orient": "right", "values": [0, 0.2], "labels": false, "grid": false, "title": null}},
                      "color": {"field": "series", "type": "nominal", "scale": {"domain": ["error", "3σ"], "range": ["#0072BD", "#D95319"]}, "legend": {"title": null}}}}
      ],
      "resolve": {"axis": {"x": "independent", "y": "independent"}}
    },
    {
      "width": 470, "height": 97, "data": {"name": "lines"},
      "layer": [
        {"transform": [{"filter": "datum.panel === 'wx' && datum.series === 'error'"}], "mark": {"type": "line", "strokeWidth": 2},
         "encoding": {"x": {"field": "t", "type": "quantitative", "scale": {"domain": [0, 10], "nice": false}, "axis": {"orient": "bottom", "values": [0, 2, 4, 6, 8, 10], "format": "~r", "grid": true, "title": null}},
                      "y": {"field": "v", "type": "quantitative", "scale": {"domain": [0, 0.5], "nice": false}, "axis": {"orient": "left", "values": [0, 0.5], "format": "~r", "grid": true, "title": "ωₓ [rad/TU]", "titlePadding": 3}},
                      "color": {"field": "series", "type": "nominal", "scale": {"domain": ["error", "3σ"], "range": ["#0072BD", "#D95319"]}, "legend": {"title": null}}}},
        {"transform": [{"filter": "datum.panel === 'wx' && datum.series === '3σ'"}], "mark": {"type": "line", "strokeWidth": 2},
         "encoding": {"x": {"field": "t", "type": "quantitative", "scale": {"domain": [0, 10], "nice": false}, "axis": {"orient": "top", "values": [0, 2, 4, 6, 8, 10], "labels": false, "grid": false, "title": null}},
                      "y": {"field": "v", "type": "quantitative", "scale": {"domain": [0, 0.5], "nice": false}, "axis": {"orient": "right", "values": [0, 0.5], "labels": false, "grid": false, "title": null}},
                      "color": {"field": "series", "type": "nominal", "scale": {"domain": ["error", "3σ"], "range": ["#0072BD", "#D95319"]}, "legend": {"title": null}}}}
      ],
      "resolve": {"axis": {"x": "independent", "y": "independent"}}
    },
    {"width": 474, "height": 39, "data": {"values": []}, "mark": "point", "view": {"stroke": null}},
    {"width": 470, "height": 39, "data": {"values": []}, "mark": "point", "view": {"stroke": null}},
    {
      "width": 474, "height": 97, "data": {"name": "lines"},
      "layer": [
        {"transform": [{"filter": "datum.panel === 's2' && datum.series === 'error'"}], "mark": {"type": "line", "strokeWidth": 2},
         "encoding": {"x": {"field": "t", "type": "quantitative", "scale": {"domain": [0, 10], "nice": false}, "axis": {"orient": "bottom", "values": [0, 2, 4, 6, 8, 10], "format": "~r", "grid": true, "title": null}},
                      "y": {"field": "v", "type": "quantitative", "scale": {"domain": [0, 0.3], "nice": false}, "axis": {"orient": "left", "values": [0, 0.2], "format": "~r", "grid": true, "title": "σ₂ [-]"}},
                      "color": {"field": "series", "type": "nominal", "scale": {"domain": ["error", "3σ"], "range": ["#0072BD", "#D95319"]}, "legend": {"title": null}}}},
        {"transform": [{"filter": "datum.panel === 's2' && datum.series === '3σ'"}], "mark": {"type": "line", "strokeWidth": 2},
         "encoding": {"x": {"field": "t", "type": "quantitative", "scale": {"domain": [0, 10], "nice": false}, "axis": {"orient": "top", "values": [0, 2, 4, 6, 8, 10], "labels": false, "grid": false, "title": null}},
                      "y": {"field": "v", "type": "quantitative", "scale": {"domain": [0, 0.3], "nice": false}, "axis": {"orient": "right", "values": [0, 0.2], "labels": false, "grid": false, "title": null}},
                      "color": {"field": "series", "type": "nominal", "scale": {"domain": ["error", "3σ"], "range": ["#0072BD", "#D95319"]}, "legend": {"title": null}}}}
      ],
      "resolve": {"axis": {"x": "independent", "y": "independent"}}
    },
    {
      "width": 470, "height": 97, "data": {"name": "lines"},
      "layer": [
        {"transform": [{"filter": "datum.panel === 'wy' && datum.series === 'error'"}], "mark": {"type": "line", "strokeWidth": 2},
         "encoding": {"x": {"field": "t", "type": "quantitative", "scale": {"domain": [0, 10], "nice": false}, "axis": {"orient": "bottom", "values": [0, 2, 4, 6, 8, 10], "format": "~r", "grid": true, "title": null}},
                      "y": {"field": "v", "type": "quantitative", "scale": {"domain": [0, 0.4], "nice": false}, "axis": {"orient": "left", "values": [0, 0.2, 0.4], "format": "~r", "grid": true, "title": "ωy [rad/TU]", "titlePadding": 3}},
                      "color": {"field": "series", "type": "nominal", "scale": {"domain": ["error", "3σ"], "range": ["#0072BD", "#D95319"]}, "legend": {"title": null}}}},
        {"transform": [{"filter": "datum.panel === 'wy' && datum.series === '3σ'"}], "mark": {"type": "line", "strokeWidth": 2},
         "encoding": {"x": {"field": "t", "type": "quantitative", "scale": {"domain": [0, 10], "nice": false}, "axis": {"orient": "top", "values": [0, 2, 4, 6, 8, 10], "labels": false, "grid": false, "title": null}},
                      "y": {"field": "v", "type": "quantitative", "scale": {"domain": [0, 0.4], "nice": false}, "axis": {"orient": "right", "values": [0, 0.2, 0.4], "labels": false, "grid": false, "title": null}},
                      "color": {"field": "series", "type": "nominal", "scale": {"domain": ["error", "3σ"], "range": ["#0072BD", "#D95319"]}, "legend": {"title": null}}}}
      ],
      "resolve": {"axis": {"x": "independent", "y": "independent"}}
    },
    {"width": 474, "height": 39, "data": {"values": []}, "mark": "point", "view": {"stroke": null}},
    {"width": 470, "height": 39, "data": {"values": []}, "mark": "point", "view": {"stroke": null}},
    {
      "title": {"text": "(a)", "color": "#6f8cab", "orient": "bottom", "dx": 99, "offset": 20},
      "width": 474, "height": 97, "data": {"name": "lines"},
      "layer": [
        {"transform": [{"filter": "datum.panel === 's3' && datum.series === 'error'"}], "mark": {"type": "line", "strokeWidth": 2},
         "encoding": {"x": {"field": "t", "type": "quantitative", "scale": {"domain": [0, 10], "nice": false}, "axis": {"orient": "bottom", "values": [0, 2, 4, 6, 8, 10], "format": "~r", "grid": true, "title": "time [TU]"}},
                      "y": {"field": "v", "type": "quantitative", "scale": {"domain": [0, 0.3], "nice": false}, "axis": {"orient": "left", "values": [0, 0.2], "format": "~r", "grid": true, "title": "σ₃ [-]"}},
                      "color": {"field": "series", "type": "nominal", "scale": {"domain": ["error", "3σ"], "range": ["#0072BD", "#D95319"]}, "legend": {"title": null}}}},
        {"transform": [{"filter": "datum.panel === 's3' && datum.series === '3σ'"}], "mark": {"type": "line", "strokeWidth": 2},
         "encoding": {"x": {"field": "t", "type": "quantitative", "scale": {"domain": [0, 10], "nice": false}, "axis": {"orient": "top", "values": [0, 2, 4, 6, 8, 10], "labels": false, "grid": false, "title": null}},
                      "y": {"field": "v", "type": "quantitative", "scale": {"domain": [0, 0.3], "nice": false}, "axis": {"orient": "right", "values": [0, 0.2], "labels": false, "grid": false, "title": null}},
                      "color": {"field": "series", "type": "nominal", "scale": {"domain": ["error", "3σ"], "range": ["#0072BD", "#D95319"]}, "legend": {"title": null}}}}
      ],
      "resolve": {"axis": {"x": "independent", "y": "independent"}}
    },
    {
      "title": {"text": "(b)", "color": "#6f8cab", "orient": "bottom", "dx": 35, "offset": 20},
      "width": 470, "height": 97, "data": {"name": "lines"},
      "layer": [
        {"transform": [{"filter": "datum.panel === 'wz' && datum.series === 'error'"}], "mark": {"type": "line", "strokeWidth": 2},
         "encoding": {"x": {"field": "t", "type": "quantitative", "scale": {"domain": [0, 10], "nice": false}, "axis": {"orient": "bottom", "values": [0, 2, 4, 6, 8, 10], "format": "~r", "grid": true, "title": "time [TU]"}},
                      "y": {"field": "v", "type": "quantitative", "scale": {"domain": [0, 0.4], "nice": false}, "axis": {"orient": "left", "values": [0, 0.2, 0.4], "format": "~r", "grid": true, "title": "ωz [rad/TU]", "titlePadding": 3}},
                      "color": {"field": "series", "type": "nominal", "scale": {"domain": ["error", "3σ"], "range": ["#0072BD", "#D95319"]}, "legend": {"title": null}}}},
        {"transform": [{"filter": "datum.panel === 'wz' && datum.series === '3σ'"}], "mark": {"type": "line", "strokeWidth": 2},
         "encoding": {"x": {"field": "t", "type": "quantitative", "scale": {"domain": [0, 10], "nice": false}, "axis": {"orient": "top", "values": [0, 2, 4, 6, 8, 10], "labels": false, "grid": false, "title": null}},
                      "y": {"field": "v", "type": "quantitative", "scale": {"domain": [0, 0.4], "nice": false}, "axis": {"orient": "right", "values": [0, 0.2, 0.4], "labels": false, "grid": false, "title": null}},
                      "color": {"field": "series", "type": "nominal", "scale": {"domain": ["error", "3σ"], "range": ["#0072BD", "#D95319"]}, "legend": {"title": null}}}}
      ],
      "resolve": {"axis": {"x": "independent", "y": "independent"}}
    },
    {"title": {"text": "MRPs of the target", "orient": "top", "dx": 137, "offset": -91}, "width": 474, "height": 157, "data": {"values": []}, "mark": "point", "view": {"stroke": null}},
    {"title": {"text": "angular velocity of the target", "orient": "top", "dx": 72, "offset": -91}, "width": 470, "height": 157, "data": {"values": []}, "mark": "point", "view": {"stroke": null}},
    {
      "width": 474, "height": 154, "data": {"name": "lines"},
      "layer": [
        {"transform": [{"filter": "datum.panel === 'k1' && datum.series === 'error'"}], "mark": {"type": "line", "strokeWidth": 2},
         "encoding": {"x": {"field": "t", "type": "quantitative", "scale": {"domain": [0, 10], "nice": false}, "axis": {"orient": "bottom", "values": [0, 2, 4, 6, 8, 10], "format": "~r", "grid": true, "title": null}},
                      "y": {"field": "v", "type": "quantitative", "scale": {"domain": [0, 0.3], "nice": false}, "axis": {"orient": "left", "values": [0, 0.1, 0.2, 0.3], "format": "~r", "grid": true, "title": "k1 [-]", "titlePadding": 8}},
                      "color": {"field": "series", "type": "nominal", "scale": {"domain": ["error", "3σ"], "range": ["#0072BD", "#D95319"]}, "legend": {"title": null}}}},
        {"transform": [{"filter": "datum.panel === 'k1' && datum.series === '3σ'"}], "mark": {"type": "line", "strokeWidth": 2},
         "encoding": {"x": {"field": "t", "type": "quantitative", "scale": {"domain": [0, 10], "nice": false}, "axis": {"orient": "top", "values": [0, 2, 4, 6, 8, 10], "labels": false, "grid": false, "title": null}},
                      "y": {"field": "v", "type": "quantitative", "scale": {"domain": [0, 0.3], "nice": false}, "axis": {"orient": "right", "values": [0, 0.1, 0.2, 0.3], "labels": false, "grid": false, "title": null}},
                      "color": {"field": "series", "type": "nominal", "scale": {"domain": ["error", "3σ"], "range": ["#0072BD", "#D95319"]}, "legend": {"title": null}}}}
      ],
      "resolve": {"axis": {"x": "independent", "y": "independent"}}
    },
    {
      "bounds": "flush", "spacing": 38,
      "resolve": {"scale": {"color": "independent"}, "legend": {"color": "independent"}},
      "vconcat": [
        {
          "width": 470, "height": 97, "data": {"name": "segs"},
          "layer": [
            {"transform": [{"filter": "datum.panel === 'phi' && datum.series === 'error'"}], "mark": {"type": "rule", "strokeWidth": 2},
             "encoding": {"x": {"field": "t", "type": "quantitative", "scale": {"domain": [0, 10], "nice": false}, "axis": {"orient": "bottom", "values": [0, 2, 4, 6, 8, 10], "format": "~r", "grid": true, "title": null}},
                          "x2": {"field": "t2"},
                          "y": {"field": "v", "type": "quantitative", "scale": {"domain": [0, 0.4], "nice": false}, "axis": {"orient": "left", "values": [0, 0.2, 0.4], "format": "~r", "grid": true, "title": "ϕ [rad]", "titlePadding": 3}},
                          "y2": {"field": "v2"},
                          "color": {"field": "series", "type": "nominal", "scale": {"domain": ["error", "3σ"], "range": ["#0072BD", "#D95319"]}, "legend": {"title": null}}}},
            {"transform": [{"filter": "datum.panel === 'phi' && datum.series === '3σ'"}], "mark": {"type": "rule", "strokeWidth": 2},
             "encoding": {"x": {"field": "t", "type": "quantitative", "scale": {"domain": [0, 10], "nice": false}, "axis": {"orient": "top", "values": [0, 2, 4, 6, 8, 10], "labels": false, "grid": false, "title": null}},
                          "x2": {"field": "t2"},
                          "y": {"field": "v", "type": "quantitative", "scale": {"domain": [0, 0.4], "nice": false}, "axis": {"orient": "right", "values": [0, 0.2, 0.4], "labels": false, "grid": false, "title": null}},
                          "y2": {"field": "v2"},
                          "color": {"field": "series", "type": "nominal", "scale": {"domain": ["error", "3σ"], "range": ["#0072BD", "#D95319"]}, "legend": {"title": null}}}}
          ],
          "resolve": {"axis": {"x": "independent", "y": "independent"}}
        },
        {
          "width": 470, "height": 98, "data": {"name": "segs"},
          "layer": [
            {"transform": [{"filter": "datum.panel === 'delta' && datum.series === 'error'"}], "mark": {"type": "rule", "strokeWidth": 2},
             "encoding": {"x": {"field": "t", "type": "quantitative", "scale": {"domain": [0, 10], "nice": false}, "axis": {"orient": "bottom", "values": [0, 2, 4, 6, 8, 10], "format": "~r", "grid": true, "title": null}},
                          "x2": {"field": "t2"},
                          "y": {"field": "v", "type": "quantitative", "scale": {"domain": [0, 0.2], "nice": false}, "axis": {"orient": "left", "values": [0, 0.1, 0.2], "format": "~r", "grid": true, "title": "δ [rad]", "titlePadding": 3}},
                          "y2": {"field": "v2"},
                          "color": {"field": "series", "type": "nominal", "scale": {"domain": ["error", "3σ"], "range": ["#0072BD", "#D95319"]}, "legend": {"title": null}}}},
            {"transform": [{"filter": "datum.panel === 'delta' && datum.series === '3σ'"}], "mark": {"type": "rule", "strokeWidth": 2},
             "encoding": {"x": {"field": "t", "type": "quantitative", "scale": {"domain": [0, 10], "nice": false}, "axis": {"orient": "top", "values": [0, 2, 4, 6, 8, 10], "labels": false, "grid": false, "title": null}},
                          "x2": {"field": "t2"},
                          "y": {"field": "v", "type": "quantitative", "scale": {"domain": [0, 0.2], "nice": false}, "axis": {"orient": "right", "values": [0, 0.1, 0.2], "labels": false, "grid": false, "title": null}},
                          "y2": {"field": "v2"},
                          "color": {"field": "series", "type": "nominal", "scale": {"domain": ["error", "3σ"], "range": ["#0072BD", "#D95319"]}, "legend": {"title": null}}}}
          ],
          "resolve": {"axis": {"x": "independent", "y": "independent"}}
        },
        {
          "title": {"text": "(d)", "color": "#6f8cab", "orient": "bottom", "dx": -105, "offset": 20},
          "width": 470, "height": 97, "data": {"name": "segs"},
          "layer": [
            {"transform": [{"filter": "datum.panel === 'gam' && datum.series === 'error'"}], "mark": {"type": "rule", "strokeWidth": 2},
             "encoding": {"x": {"field": "t", "type": "quantitative", "scale": {"domain": [0, 10], "nice": false}, "axis": {"orient": "bottom", "values": [0, 2, 4, 6, 8, 10], "format": "~r", "grid": true, "title": "time [TU]"}},
                          "x2": {"field": "t2"},
                          "y": {"field": "v", "type": "quantitative", "scale": {"domain": [0, 0.75], "nice": false}, "axis": {"orient": "left", "values": [0, 0.5], "format": "~r", "grid": true, "title": "Γ₍₀₎/A [rad/TU]", "titlePadding": 3}},
                          "y2": {"field": "v2"},
                          "color": {"field": "series", "type": "nominal", "scale": {"domain": ["error", "3σ"], "range": ["#0072BD", "#D95319"]}, "legend": {"title": null}}}},
            {"transform": [{"filter": "datum.panel === 'gam' && datum.series === '3σ'"}], "mark": {"type": "rule", "strokeWidth": 2},
             "encoding": {"x": {"field": "t", "type": "quantitative", "scale": {"domain": [0, 10], "nice": false}, "axis": {"orient": "top", "values": [0, 2, 4, 6, 8, 10], "labels": false, "grid": false, "title": null}},
                          "x2": {"field": "t2"},
                          "y": {"field": "v", "type": "quantitative", "scale": {"domain": [0, 0.75], "nice": false}, "axis": {"orient": "right", "values": [0, 0.5], "labels": false, "grid": false, "title": null}},
                          "y2": {"field": "v2"},
                          "color": {"field": "series", "type": "nominal", "scale": {"domain": ["error", "3σ"], "range": ["#0072BD", "#D95319"]}, "legend": {"title": null}}}}
          ],
          "resolve": {"axis": {"x": "independent", "y": "independent"}}
        }
      ]
    },
    {"width": 474, "height": 62, "data": {"values": []}, "mark": "point", "view": {"stroke": null}},
    {"width": 470, "height": 1, "data": {"values": []}, "mark": "point", "view": {"stroke": null}},
    {
      "title": {"text": "(c)", "color": "#6f8cab", "orient": "bottom", "dx": 44, "offset": 44},
      "width": 474, "height": 152, "data": {"name": "lines"},
      "layer": [
        {"transform": [{"filter": "datum.panel === 'k2' && datum.series === 'error'"}], "mark": {"type": "line", "strokeWidth": 2},
         "encoding": {"x": {"field": "t", "type": "quantitative", "scale": {"domain": [0, 10], "nice": false}, "axis": {"orient": "bottom", "values": [0, 2, 4, 6, 8, 10], "format": "~r", "grid": true, "title": null}},
                      "y": {"field": "v", "type": "quantitative", "scale": {"domain": [0, 0.3], "nice": false}, "axis": {"orient": "left", "values": [0, 0.1, 0.2, 0.3], "format": "~r", "grid": true, "title": "k2 [-]", "titlePadding": 8}},
                      "color": {"field": "series", "type": "nominal", "scale": {"domain": ["error", "3σ"], "range": ["#0072BD", "#D95319"]}, "legend": {"title": null}}}},
        {"transform": [{"filter": "datum.panel === 'k2' && datum.series === '3σ'"}], "mark": {"type": "line", "strokeWidth": 2},
         "encoding": {"x": {"field": "t", "type": "quantitative", "scale": {"domain": [0, 10], "nice": false}, "axis": {"orient": "top", "values": [0, 2, 4, 6, 8, 10], "labels": false, "grid": false, "title": null}},
                      "y": {"field": "v", "type": "quantitative", "scale": {"domain": [0, 0.3], "nice": false}, "axis": {"orient": "right", "values": [0, 0.1, 0.2, 0.3], "labels": false, "grid": false, "title": null}},
                      "color": {"field": "series", "type": "nominal", "scale": {"domain": ["error", "3σ"], "range": ["#0072BD", "#D95319"]}, "legend": {"title": null}}}}
      ],
      "resolve": {"axis": {"x": "independent", "y": "independent"}}
    },
    {"width": 470, "height": 1, "data": {"values": []}, "mark": "point", "view": {"stroke": null}},
    {"title": {"text": "Inertia parameters of the target", "orient": "top", "dx": 79, "offset": -91}, "width": 474, "height": 120, "data": {"values": []}, "mark": "point", "view": {"stroke": null}},
    {"title": {"text": ["\u200d\u00a0\u00a0\u00a0\u00a0\u00a0\u00a0Target's symmetry axis spherical coordinate", "ℐΓ frame and Γ₍₀₎/A ratio"], "orient": "top", "dx": -105, "offset": -136, "lineHeight": 45}, "width": 470, "height": 120, "data": {"values": []}, "mark": "point", "view": {"stroke": null}}
  ]
}
